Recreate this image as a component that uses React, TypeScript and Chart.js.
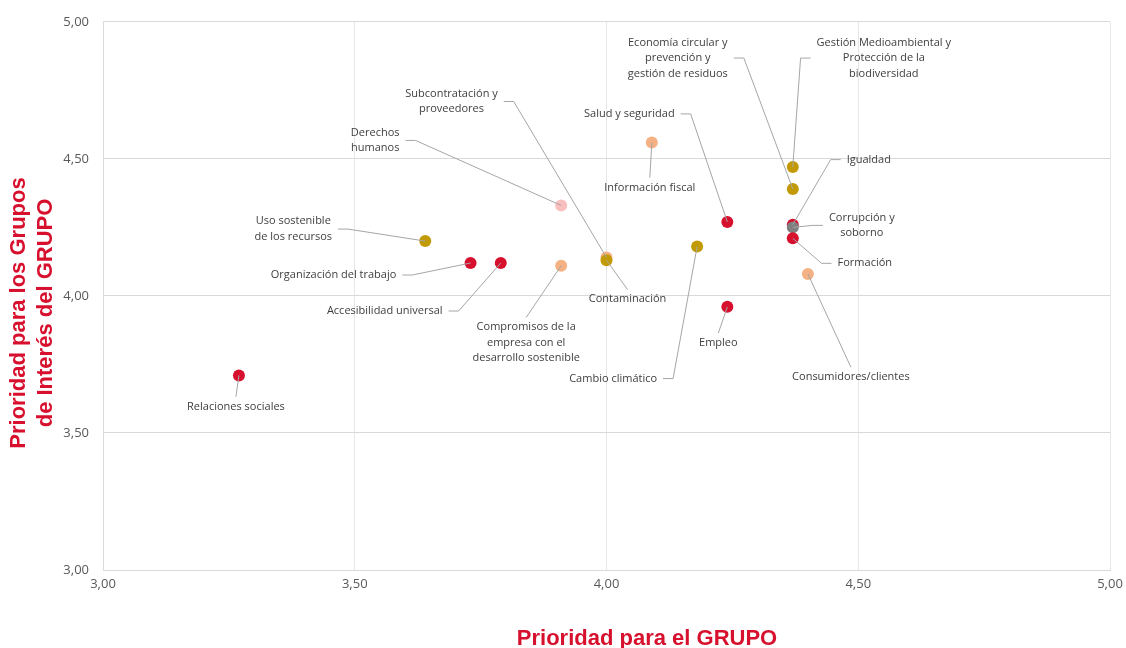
import React, { useEffect, useRef } from "react";
import { Chart, registerables } from "chart.js";

Chart.register(...registerables);

// ---- Data ----
const topics: string[] = [
  "Relaciones sociales",
  "Uso sostenible\nde los recursos",
  "Organización del trabajo",
  "Accesibilidad universal",
  "Derechos\nhumanos",
  "Compromisos de la\nempresa con el\ndesarrollo sostenible",
  "Subcontratación y\nproveedores",
  "Contaminación",
  "Información fiscal",
  "Cambio climático",
  "Salud y seguridad",
  "Empleo",
  "Gestión Medioambiental y\nProtección de la\nbiodiversidad",
  "Economía circular y\nprevención y\ngestión de residuos",
  "Igualdad",
  "Corrupción y\nsoborno",
  "Formación",
  "Consumidores/clientes",
];

const xValues: number[] = [
  3.27, 3.64, 3.73, 3.79, 3.91, 3.91, 4.0, 4.0, 4.09, 4.18, 4.24, 4.24, 4.37, 4.37, 4.37, 4.37, 4.37, 4.4,
];

const yValues: number[] = [
  3.71, 4.2, 4.12, 4.12, 4.33, 4.11, 4.14, 4.13, 4.56, 4.18, 4.27, 3.96, 4.47, 4.39, 4.26, 4.25, 4.21, 4.08,
];

const groups: string[] = [
  "social", "ambiental", "social", "social", "derechos", "cliente", "cliente", "ambiental", "cliente",
  "ambiental", "social", "social", "ambiental", "ambiental", "social", "gobernanza", "social", "cliente",
];

const tickValues: number[] = [3, 3.5, 4, 4.5, 5];

const xTitle = "Prioridad para el GRUPO";
const yTitleLines = ["Prioridad para los Grupos", "de Interés del GRUPO"];

// ---- Styles / layout ----
const groupColors: Record<string, string> = {
  social: "#D7102E",
  ambiental: "#C19A06",
  cliente: "#F4B183",
  derechos: "#F9BEBE",
  gobernanza: "#7F7F7F",
};

// label center offset (px) from point
const labelOffsets: [number, number][] = [
  [-3, 31],
  [-132, -12],
  [-137, 12],
  [-116, 48],
  [-186, -65],
  [-35, 77],
  [-155, -156],
  [21, 39],
  [-2, 45],
  [-84, 132],
  [-98, -108],
  [-9, 36],
  [91, -109],
  [-115, -131],
  [76, -65],
  [69, -2],
  [72, 25],
  [43, 103],
];

const fmt = (v: number) => v.toFixed(2).replace(".", ",");

const labelPlugin = {
  id: "leaderLabels",
  afterDatasetsDraw(chart: any) {
    const ctx = chart.ctx as CanvasRenderingContext2D;
    const meta = chart.getDatasetMeta(0);
    ctx.save();
    ctx.font = "11px 'Open Sans'";
    const lh = 15.5;
    meta.data.forEach((el: any, i: number) => {
      const px = el.x;
      const py = el.y;
      const lines = topics[i].split("\n");
      const [dx, dy] = labelOffsets[i];
      const cx = px + dx;
      const cy = py + dy;
      const w = Math.max(...lines.map((l) => ctx.measureText(l).width));
      const h = lines.length * lh;
      const left = cx - w / 2;
      const right = cx + w / 2;
      const top = cy - h / 2;
      const bottom = cy + h / 2;
      ctx.strokeStyle = "#A6A6A6";
      ctx.lineWidth = 1;
      ctx.beginPath();
      if (px >= left && px <= right) {
        const ay = py < top ? top - 2 : bottom + 2;
        ctx.moveTo(cx, ay);
        ctx.lineTo(px, py);
      } else {
        const side = px > right ? 1 : -1;
        const sx = side > 0 ? right + 6 : left - 6;
        ctx.moveTo(sx, cy);
        ctx.lineTo(sx + side * 10, cy);
        ctx.lineTo(px, py);
      }
      ctx.stroke();
      ctx.fillStyle = "#404040";
      ctx.textAlign = "center";
      ctx.textBaseline = "middle";
      lines.forEach((l, k) => {
        ctx.fillText(l, cx, top + lh / 2 + k * lh);
      });
    });
    ctx.restore();
  },
  afterDraw(chart: any) {
    const ctx = chart.ctx as CanvasRenderingContext2D;
    ctx.save();
    ctx.fillStyle = "#D7102E";
    ctx.font = "bold 22px 'Liberation Sans', Arial, sans-serif";
    ctx.textAlign = "center";
    ctx.textBaseline = "middle";
    ctx.fillText(xTitle, 647, 639);
    ctx.translate(32.5, 313);
    ctx.rotate(-Math.PI / 2);
    yTitleLines.forEach((l, k) => {
      ctx.fillText(l, 0, -13.5 + k * 27);
    });
    ctx.restore();
  },
};

const bgPlugin = {
  id: "bg",
  beforeDraw(chart: any) {
    const ctx = chart.ctx;
    ctx.save();
    ctx.fillStyle = "#FFFFFF";
    ctx.fillRect(0, 0, chart.width, chart.height);
    ctx.restore();
  },
};

export default function App() {
  const canvasRef = useRef<HTMLCanvasElement | null>(null);

  useEffect(() => {
    if (!canvasRef.current) return;
    const points = xValues.map((x, i) => ({ x, y: yValues[i] }));
    const colors = groups.map((g) => groupColors[g]);
    const chart = new Chart(canvasRef.current, {
      type: "scatter",
      data: {
        datasets: [
          {
            data: points,
            backgroundColor: colors,
            borderColor: colors,
            pointRadius: 6,
            pointBorderWidth: 0,
          },
        ],
      },
      options: {
        animation: false,
        responsive: false,
        maintainAspectRatio: false,
        layout: { padding: { top: 20, right: 0, left: 0, bottom: 0 } },
        plugins: {
          legend: { display: false },
          tooltip: { enabled: false },
        },
        scales: {
          x: {
            type: "linear",
            min: 3,
            max: 5,
            afterBuildTicks: (scale: any) => {
              scale.ticks = tickValues.map((v) => ({ value: v }));
            },
            afterFit: (scale: any) => {
              scale.height = 78;
              scale.paddingRight = 16;
              scale.paddingLeft = 0;
            },
            grid: { color: "#E6E6E6", lineWidth: 1, drawTicks: false },
            border: { color: "#D9D9D9", width: 1 },
            ticks: {
              padding: 6,
              color: "#595959",
              font: { family: "'Open Sans'", size: 13 },
              callback: (v: any) => fmt(Number(v)),
            },
          },
          y: {
            type: "linear",
            min: 3,
            max: 5,
            afterBuildTicks: (scale: any) => {
              scale.ticks = tickValues.map((v) => ({ value: v }));
            },
            afterFit: (scale: any) => {
              scale.width = 103;
            },
            grid: { color: "#D9D9D9", lineWidth: 1, drawTicks: false },
            border: { color: "#D9D9D9", width: 1 },
            ticks: {
              padding: 14,
              color: "#595959",
              font: { family: "'Open Sans'", size: 13 },
              callback: (v: any) => fmt(Number(v)),
            },
          },
        },
      },
      plugins: [bgPlugin, labelPlugin],
    });
    return () => chart.destroy();
  }, []);

  return (
    <div style={{ position: "fixed", left: 0, top: 0, width: 1126, height: 648, background: "#fff" }}>
      <canvas ref={canvasRef} width={1126} height={648} style={{ width: 1126, height: 648 }} />
    </div>
  );
}
